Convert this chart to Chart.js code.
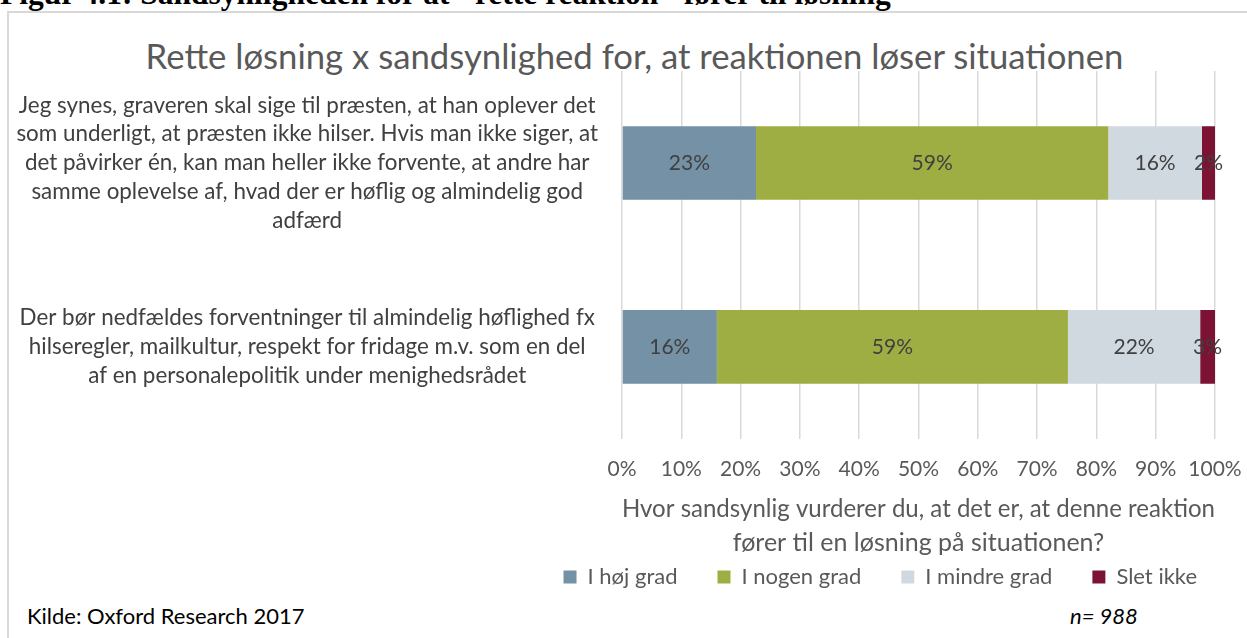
<!DOCTYPE html>
<html lang="da">
<head>
    <meta charset="UTF-8">
    <title>Rette løsning x sandsynlighed</title>
    <script src="https://cdn.jsdelivr.net/npm/chart.js@4.4.1/dist/chart.umd.min.js"></script>
    <style>
        body {
            margin: 0;
            width: 1247px;
            height: 638px;
            overflow: hidden;
            background: #fff;
            font-family: Lato, sans-serif;
            position: relative;
        }
        .frame {
            position: absolute;
            left: 7px;
            top: 11px;
            width: 1250px;
            height: 700px;
            border-left: 2px solid #d9d9d9;
            border-top: 2px solid #d9d9d9;
        }
        .heading {
            position: absolute;
            left: 0;
            top: -22px;
            font: bold 31.5px "Liberation Serif", serif;
            line-height: 1;
            white-space: nowrap;
        }
        .title {
            position: absolute;
            left: 0;
            width: 1269px;
            top: 35px;
            text-align: center;
            font-size: 34.7px;
            line-height: 42px;
            color: #595959;
            white-space: nowrap;
        }
        .note {
            position: absolute;
            top: 602px;
            font-size: 22px;
            color: #000;
        }
        canvas { position: absolute; left: 0; top: 0; }
    </style>
</head>
<body>
    <div class="heading">Figur 4.1: Sandsynligheden for at "rette reaktion" fører til løsning</div>
    <div class="frame"></div>
    <div class="title">Rette løsning x sandsynlighed for, at reaktionen løser situationen</div>
    <div class="note" style="left:27px">Kilde: Oxford Research 2017</div>
    <div class="note" style="left:1070px;font-style:italic">n= 988</div>
    <canvas id="chart" width="1247" height="638"></canvas>
    <script>
        const categories = [
            ['Jeg synes, graveren skal sige til præsten, at han oplever det',
             'som underligt, at præsten ikke hilser. Hvis man ikke siger, at',
             'det påvirker én, kan man heller ikke forvente, at andre har',
             'samme oplevelse af, hvad der er høflig og almindelig god',
             'adfærd'],
            ['Der bør nedfældes forventninger til almindelig høflighed fx',
             'hilseregler, mailkultur, respekt for fridage m.v. som en del',
             'af en personalepolitik under menighedsrådet']
        ];
        const seriesNames = ['I høj grad', 'I nogen grad', 'I mindre grad', 'Slet ikke'];
        const hoejGrad = [22.6, 16.0];
        const nogenGrad = [59.4, 59.2];
        const mindreGrad = [15.8, 22.3];
        const sletIkke = [2.2, 2.5];
        const xTicks = [0, 10, 20, 30, 40, 50, 60, 70, 80, 90, 100];
        const xTitle = ['Hvor sandsynlig vurderer du, at det er, at denne reaktion',
                        'fører til en løsning på situationen?'];

        const colors = ['#7491a5', '#9fae42', '#d1d9e0', '#7c1234'];
        const values = [hoejGrad, nogenGrad, mindreGrad, sletIkke];

        // tal midt i hver bar
        const barLabels = {
            id: 'barLabels',
            afterDatasetsDraw(chart) {
                const ctx = chart.ctx;
                ctx.save();
                ctx.font = '21px Lato';
                ctx.fillStyle = '#404040';
                ctx.textAlign = 'center';
                ctx.textBaseline = 'middle';
                chart.data.datasets.forEach((ds, i) => {
                    chart.getDatasetMeta(i).data.forEach((bar, j) => {
                        const p = bar.getCenterPoint();
                        ctx.fillText(Math.round(ds.data[j]) + '%', p.x, p.y);
                    });
                });
                ctx.restore();
            }
        };

        // legenden tættere på aksetitlen og lidt mod højre
        const legendShift = {
            id: 'legendShift',
            afterLayout(chart) {
                const lg = chart.legend;
                lg.top -= 34;
                lg.bottom -= 34;
                lg.left += 22;
                lg.right += 22;
            }
        };

        new Chart(document.getElementById('chart'), {
            type: 'bar',
            data: {
                labels: categories,
                datasets: seriesNames.map((name, i) => ({
                    label: name,
                    data: values[i],
                    backgroundColor: colors[i],
                    borderWidth: 0,
                    barPercentage: 0.4,
                    categoryPercentage: 1
                }))
            },
            options: {
                indexAxis: 'y',
                responsive: false,
                animation: false,
                layout: { padding: { top: 71, left: 0, right: 32, bottom: 6 } },
                scales: {
                    x: {
                        stacked: true,
                        min: 0,
                        max: 100,
                        afterBuildTicks: axis => { axis.ticks = xTicks.map(v => ({ value: v })); },
                        afterFit: axis => { axis.paddingLeft = 0; axis.paddingRight = 0; },
                        grid: { color: '#d9d9d9', lineWidth: 1.5, drawTicks: false },
                        border: { display: false },
                        ticks: {
                            padding: 18,
                            maxRotation: 0,
                            minRotation: 0,
                            autoSkip: false,
                            color: '#595959',
                            font: { family: 'Lato', size: 21 },
                            callback: v => v + '%'
                        },
                        title: {
                            display: true,
                            text: xTitle,
                            color: '#595959',
                            font: { family: 'Lato', size: 25, lineHeight: 1.36 },
                            padding: { top: -8, bottom: 0 }
                        }
                    },
                    y: {
                        stacked: true,
                        afterFit: axis => { axis.width = 622; },
                        grid: { display: false },
                        border: { display: false },
                        ticks: {
                            crossAlign: 'center',
                            padding: 16,
                            color: '#404040',
                            font: { family: 'Lato', size: 22.4, lineHeight: 1.28 }
                        }
                    }
                },
                plugins: {
                    legend: {
                        position: 'bottom',
                        align: 'end',
                        labels: {
                            boxWidth: 13,
                            boxHeight: 13,
                            padding: 40,
                            color: '#595959',
                            font: { family: 'Lato', size: 22 }
                        }
                    },
                    tooltip: { enabled: false }
                }
            },
            plugins: [barLabels, legendShift]
        });
    </script>
</body>
</html>
